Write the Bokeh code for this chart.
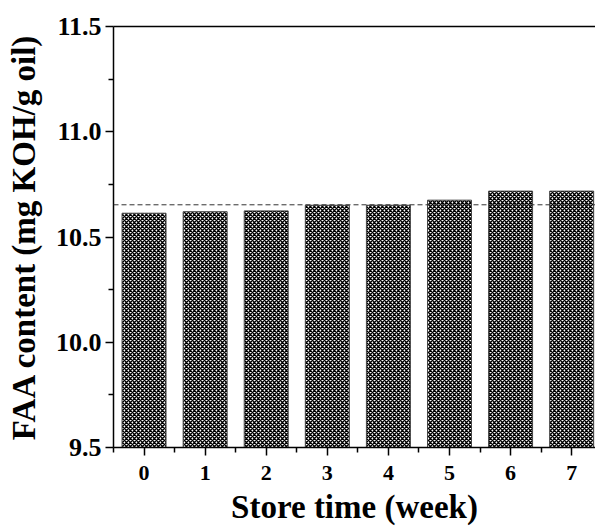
from bokeh.plotting import figure
from bokeh.models import FixedTicker, LinearAxis, Span, ColumnDataSource, NumeralTickFormatter
from bokeh.embed import file_html
from bokeh.resources import INLINE

weeks = [0, 1, 2, 3, 4, 5, 6, 7]
faa = [10.613, 10.620, 10.624, 10.651, 10.651, 10.675, 10.718, 10.718]
reference_level = 10.653
y_ticks = [9.5, 10.0, 10.5, 11.0, 11.5]
y_minor = [9.75, 10.25, 10.75, 11.25]
x_minor = [-0.5, 0.5, 1.5, 2.5, 3.5, 4.5, 5.5, 6.5, 7.5]
x_title = "Store time (week)"
y_title = "FAA content (mg KOH/g oil)"

src = ColumnDataSource(dict(x=weeks, top=faa))

p = figure(width=595, height=527, x_range=(-0.5, 7.39), y_range=(9.5, 11.5),
           output_backend="svg", toolbar_location=None,
           min_border_left=113, min_border_right=0, min_border_top=26, min_border_bottom=80)
p.outline_line_color = None
p.grid.visible = False
p.background_fill_color = "white"

p.vbar(x="x", top="top", bottom=9.5, width=0.72, source=src,
       fill_color="white", line_color="#444444", line_width=1,
       hatch_pattern="diagonal_cross", hatch_color="black", hatch_scale=4, hatch_weight=1.45)

p.add_layout(Span(location=reference_level, dimension="width", line_color="#333333",
                  line_width=1, line_dash="5 3"))

font = "'Liberation Serif', 'Times New Roman', serif"
for ax in (p.xaxis[0], p.yaxis[0]):
    ax.axis_line_color = "black"
    ax.axis_line_width = 1.5
    ax.major_tick_line_width = 1.5
    ax.minor_tick_line_width = 1.5
    ax.major_tick_in = 0
    ax.major_tick_out = 8
    ax.minor_tick_in = 0
    ax.minor_tick_out = 5
    ax.major_label_text_font = font
    ax.major_label_text_font_style = "bold"
    ax.major_label_text_color = "black"
    ax.axis_label_text_font = font
    ax.axis_label_text_font_style = "bold"
    ax.axis_label_text_color = "black"
    ax.axis_label_text_font_size = "33px"

p.xaxis.ticker = FixedTicker(ticks=weeks, minor_ticks=x_minor)
p.yaxis.ticker = FixedTicker(ticks=y_ticks, minor_ticks=y_minor)
p.yaxis.formatter = NumeralTickFormatter(format="0.0")
p.xaxis.major_label_text_font_size = "22px"
p.yaxis.major_label_text_font_size = "26px"
p.xaxis.axis_label = x_title
p.yaxis.axis_label = y_title
p.xaxis.major_label_standoff = 10
p.yaxis.major_label_standoff = 4
p.xaxis.axis_label_standoff = 6
p.yaxis.axis_label_standoff = 11

top = LinearAxis(ticker=FixedTicker(ticks=[]), axis_line_color="black", axis_line_width=1.5,
                 major_tick_line_color=None, minor_tick_line_color=None,
                 major_label_text_font_size="0px")
p.add_layout(top, "above")

open("out.html", "w").write(file_html(p, INLINE))
